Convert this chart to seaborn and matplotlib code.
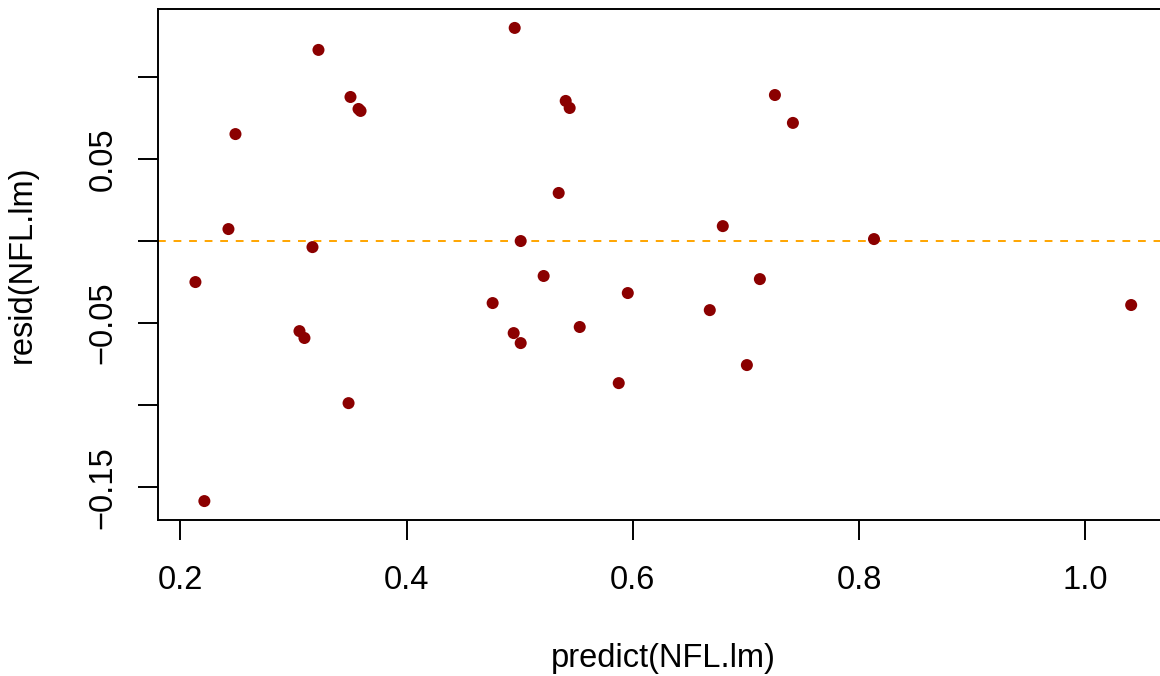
import pandas as pd
import matplotlib
matplotlib.use('Agg')
import matplotlib.pyplot as plt
import seaborn as sns

# valeurs (residus vs valeurs predites)
predicted = [0.2133, 0.2212, 0.2425, 0.2487, 0.3053, 0.3097, 0.3168, 0.3221,
             0.3487, 0.3504, 0.3575, 0.3593, 0.4761, 0.4947, 0.4956, 0.5009,
             0.5009, 0.5212, 0.5345, 0.5407, 0.5442, 0.5531, 0.5876, 0.5956,
             0.6681, 0.6796, 0.7009, 0.7124, 0.7257, 0.7416, 0.8133, 1.0407]
residuals = [-0.0250, -0.1585, 0.0073, 0.0652, -0.0549, -0.0591, -0.0037, 0.1165,
             -0.0988, 0.0878, 0.0805, 0.0793, -0.0378, -0.0561, 0.1299, 0.0000,
             -0.0622, -0.0213, 0.0293, 0.0854, 0.0811, -0.0524, -0.0866, -0.0317,
             -0.0421, 0.0091, -0.0756, -0.0232, 0.0890, 0.0720, 0.0012, -0.0390]

x_ticks = [0.2, 0.4, 0.6, 0.8, 1.0]
x_labels = ['0.2', '0.4', '0.6', '0.8', '1.0']
y_ticks = [-0.15, -0.10, -0.05, 0.0, 0.05, 0.10]
y_labels = ['\u22120.15', '', '\u22120.05', '', '0.05', '']

df = pd.DataFrame({'predict': predicted, 'resid': residuals})

sns.set_style('white')
plt.rcParams['font.family'] = ['Liberation Sans', 'DejaVu Sans']

fig = plt.figure(figsize=(11.6, 6.76), dpi=100)
ax = fig.add_axes([158 / 1160, 1 - 520 / 676, (1168.6 - 158) / 1160, 511 / 676])

sns.scatterplot(x='predict', y='resid', data=df, color='#8B0000', s=75,
                edgecolor='none', ax=ax, zorder=3)
ax.margins(x=0.04, y=0.04)
ax.axhline(0, color='#FFA500', linestyle=(0, (4, 4)), linewidth=1.4, zorder=2)

ax.set_xticks(x_ticks)
ax.set_xticklabels(x_labels)
ax.set_yticks(y_ticks)
ax.set_yticklabels(y_labels)
plt.setp(ax.get_yticklabels(), rotation=90, va='center')

ax.tick_params(axis='both', direction='out', length=14.4, width=1.4,
               labelsize=23.5, colors='black', bottom=True, left=True)
ax.tick_params(axis='x', pad=18)
ax.tick_params(axis='y', pad=14)

for side in ['left', 'bottom', 'top', 'right']:
    ax.spines[side].set_visible(True)
    ax.spines[side].set_color('black')
    ax.spines[side].set_linewidth(1.4)

ax.set_xlabel('predict(NFL.lm)', fontsize=23.5, color='black', labelpad=34)
ax.set_ylabel('resid(NFL.lm)', fontsize=23.5, color='black', labelpad=36)

fig.savefig('out.png', dpi=100, facecolor='white')
